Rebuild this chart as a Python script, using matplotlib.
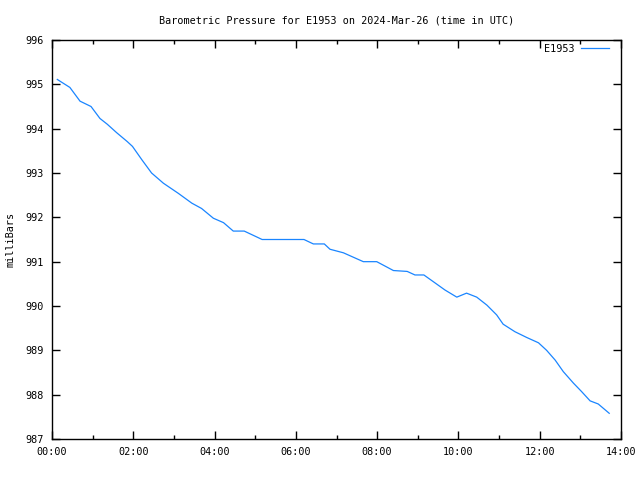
import matplotlib
matplotlib.use("Agg")
import matplotlib.pyplot as plt
from matplotlib.ticker import MultipleLocator, FuncFormatter

hours = [0.13, 0.44, 0.69, 0.96, 1.18, 1.36, 1.59, 1.85, 1.98, 2.21, 2.45, 2.74,
         3.11, 3.44, 3.68, 3.97, 4.22, 4.46, 4.73, 5.17, 6.20, 6.43, 6.70, 6.84,
         7.17, 7.66, 7.99, 8.40, 8.74, 8.93, 9.15, 9.38, 9.67, 9.96, 10.20, 10.45,
         10.70, 10.94, 11.10, 11.39, 11.68, 11.97, 12.17, 12.38, 12.58, 12.83,
         13.03, 13.24, 13.44, 13.71]
pressure = [995.11, 994.93, 994.62, 994.50, 994.23, 994.10, 993.91, 993.71, 993.60,
            993.30, 993.00, 992.77, 992.54, 992.32, 992.20, 991.98, 991.88, 991.69,
            991.69, 991.50, 991.50, 991.40, 991.40, 991.28, 991.20, 991.00, 991.00,
            990.80, 990.78, 990.70, 990.70, 990.55, 990.36, 990.20, 990.29, 990.20,
            990.02, 989.80, 989.59, 989.42, 989.29, 989.17, 989.00, 988.78, 988.52,
            988.26, 988.07, 987.86, 987.79, 987.58]
series_name = "E1953"
title = "Barometric Pressure for E1953 on 2024-Mar-26 (time in UTC)"
ylabel = "milliBars"

plt.rcParams['font.family'] = ['DejaVu Sans Mono']
fs = 7.3
fig = plt.figure(figsize=(6.4, 4.8), dpi=100)
ax = fig.add_axes([52/640, 41/480, 569/640, 399/480])
ax.plot(hours, pressure, color='#1a85ff', lw=0.9, label=series_name)
ax.set_xlim(0, 14)
ax.set_ylim(987, 996)
ax.xaxis.set_major_locator(MultipleLocator(2))
ax.xaxis.set_minor_locator(MultipleLocator(1))
ax.yaxis.set_major_locator(MultipleLocator(1))
ax.xaxis.set_major_formatter(FuncFormatter(lambda v, p: "%02d:00" % int(round(v))))
ax.tick_params(which='both', direction='in', top=True, right=True, labelsize=fs, width=1, color='black')
ax.tick_params(which='major', length=6, pad=6)
ax.tick_params(which='minor', length=3)
for s in ax.spines.values():
    s.set_linewidth(1)
ax.set_title(title, fontsize=fs, pad=12)
ax.set_ylabel(ylabel, fontsize=fs)
ax.yaxis.set_label_coords(-36/569, 0.5)
leg = ax.legend(loc='upper right', bbox_to_anchor=(1 - 7/569, 1.003), frameon=False,
                fontsize=fs, handlelength=2.8, markerfirst=False, borderaxespad=0.1,
                handletextpad=0.6)
fig.savefig("out.png", dpi=100)
